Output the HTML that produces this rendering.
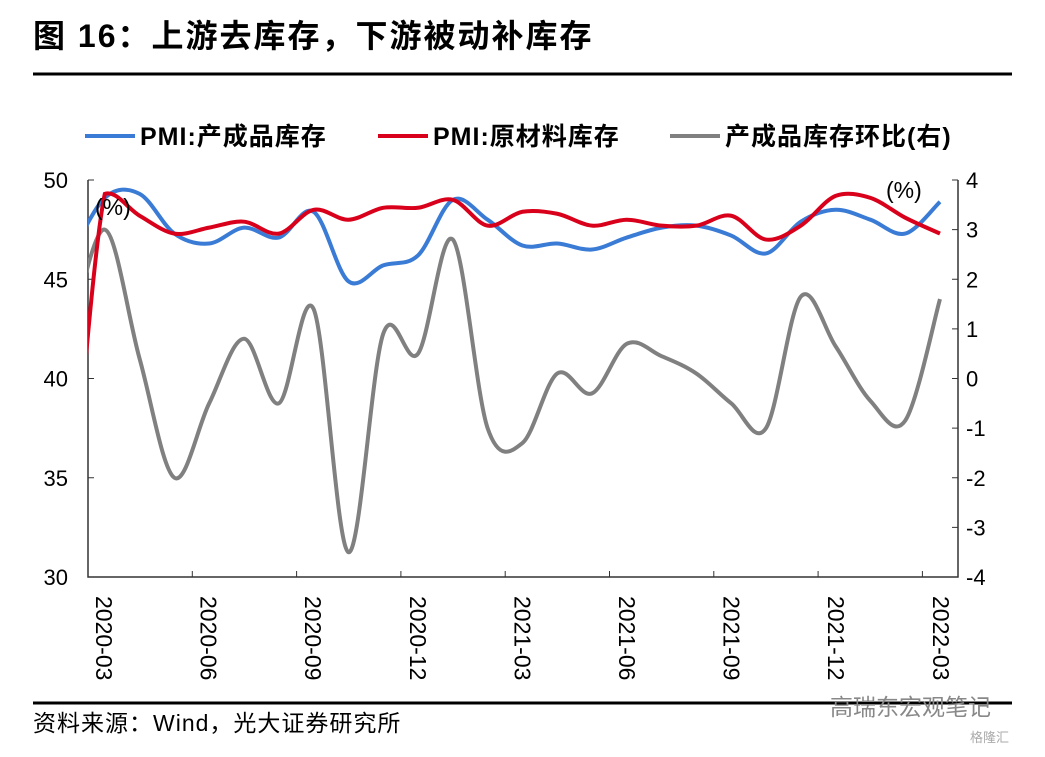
<!DOCTYPE html>
<html><head><meta charset="utf-8"><style>
body{margin:0;background:#fff;}
svg text{font-family:"Liberation Sans","Noto Sans CJK SC",sans-serif;}
</style></head><body>
<svg width="1045" height="752" viewBox="0 0 1045 752" xmlns="http://www.w3.org/2000/svg">
<text x="33" y="47" font-size="32" font-weight="bold" letter-spacing="2" fill="#000">图 16：上游去库存，下游被动补库存</text>
<line x1="33" y1="74" x2="1012" y2="74" stroke="#000" stroke-width="3"/>
<g>
<g><line x1="85" y1="136" x2="135" y2="136" stroke="#3a7bd5" stroke-width="4"/><text x="140" y="145" font-size="25" font-weight="bold" letter-spacing="1">PMI:产成品库存</text></g>
<g><line x1="378" y1="136" x2="428" y2="136" stroke="#d9001b" stroke-width="4"/><text x="433" y="145" font-size="25" font-weight="bold" letter-spacing="1">PMI:原材料库存</text></g>
<g><line x1="670" y1="136" x2="720" y2="136" stroke="#808080" stroke-width="4"/><text x="725" y="145" font-size="25" font-weight="bold" letter-spacing="1">产成品库存环比(右)</text></g>
</g>
<g id="axes"></g>
<g id="series" clip-path="url(#clip)"></g>
<defs><clipPath id="clip"><rect x="88" y="170" width="870" height="420"/></clipPath></defs>
<text x="95" y="215" font-size="23">(%)</text>
<text x="886" y="198" font-size="23">(%)</text>
<line x1="33" y1="703" x2="1012" y2="703" stroke="#000" stroke-width="3"/>
<text x="33" y="731" font-size="23" letter-spacing="1">资料来源：Wind，光大证券研究所</text>
<text x="830" y="715" font-size="23" fill="#888">高瑞东宏观笔记</text>
<text x="970" y="742" font-size="13" fill="#aaa">格隆汇</text>
</svg>
<script>
const categories=["2020-02","2020-03","2020-04","2020-05","2020-06","2020-07","2020-08","2020-09","2020-10","2020-11","2020-12","2021-01","2021-02","2021-03","2021-04","2021-05","2021-06","2021-07","2021-08","2021-09","2021-10","2021-11","2021-12","2022-01","2022-02","2022-03"];
const finishedGoods=[46.1,49.1,49.3,47.3,46.8,47.6,47.1,48.4,44.9,45.7,46.2,49.0,48.0,46.7,46.8,46.5,47.1,47.6,47.7,47.2,46.3,47.9,48.5,48.0,47.3,48.9];
const rawMaterials=[32.0,49.3,48.2,47.3,47.6,47.9,47.3,48.5,48.0,48.6,48.6,49.0,47.7,48.4,48.3,47.7,48.0,47.7,47.7,48.2,47.0,47.7,49.2,49.1,48.1,47.3];
const momChange=[0.8,3.0,0.4,-2.0,-0.5,0.8,-0.5,1.4,-3.5,0.9,0.5,2.8,-1.0,-1.3,0.1,-0.3,0.7,0.45,0.1,-0.5,-1.0,1.65,0.65,-0.45,-0.85,1.6];
const leftTicks=[30,35,40,45,50];
const rightTicks=[-4,-3,-2,-1,0,1,2,3,4];
const xLabels=["2020-03","2020-06","2020-09","2020-12","2021-03","2021-06","2021-09","2021-12","2022-03"];
const NS="http://www.w3.org/2000/svg";
const X0=88,X1=958,YT=180,YB=577;
const xs=i=>70+i*34.8;
const yl=v=>YB-(v-30)/20*(YB-YT);
const yr=v=>YB-(v+4)/8*(YB-YT);
function mk(tag,attrs,parent){const e=document.createElementNS(NS,tag);for(const k in attrs)e.setAttribute(k,attrs[k]);parent.appendChild(e);return e;}
const ax=document.getElementById('axes');
let e=mk('path',{d:`M${X0},${YT} V${YB} H${X1} V${YT}`,fill:'none',stroke:'#333','stroke-width':1.5},ax);


leftTicks.forEach(v=>{
 mk('line',{x1:X0,x2:X0+6,y1:yl(v),y2:yl(v),stroke:'#333'},ax);
 const t=mk('text',{x:X0-20,y:yl(v)+8,'font-size':22,'text-anchor':'end'},ax);t.textContent=v;
 
 
});
rightTicks.forEach(v=>{
 mk('line',{x1:X1-6,x2:X1,y1:yr(v),y2:yr(v),stroke:'#333'},ax);
 const t=mk('text',{x:X1+8,y:yr(v)+8,'font-size':22},ax);t.textContent=v;
 
 
});
xLabels.forEach((l,k)=>{
 const tx=X0+k*104.3;
 mk('line',{x1:tx,x2:tx,y1:YB,y2:YB-6,stroke:'#333'},ax);
 const cx=104+k*104.6;
 const t=mk('text',{x:0,y:0,'font-size':23,transform:`translate(${cx-8},596) rotate(90)`},ax);t.textContent=l;
 
 
});
function smooth(pts,clamp){let d=`M${pts[0][0]},${pts[0][1]}`;for(let i=0;i<pts.length-1;i++){const p0=pts[i-1]||pts[i],p1=pts[i],p2=pts[i+1],p3=pts[i+2]||p2;const t=6;let c1y=p1[1]+(p2[1]-p0[1])/t,c2y=p2[1]-(p3[1]-p1[1])/t;if(clamp){const lo=Math.min(p1[1],p2[1])-4,hi=Math.max(p1[1],p2[1])+4;c1y=Math.max(lo,Math.min(hi,c1y));c2y=Math.max(lo,Math.min(hi,c2y));}d+=` C${p1[0]+(p2[0]-p0[0])/t},${c1y} ${p2[0]-(p3[0]-p1[0])/t},${c2y} ${p2[0]},${p2[1]}`;}return d;}
const sg=document.getElementById('series');
let p=mk('path',{d:smooth(momChange.map((v,i)=>[xs(i),yr(v)]),false),fill:'none',stroke:'#808080','stroke-width':4},sg);


p=mk('path',{d:smooth(finishedGoods.map((v,i)=>[xs(i),yl(v)]),false),fill:'none',stroke:'#3a7bd5','stroke-width':4},sg);


p=mk('path',{d:smooth(rawMaterials.map((v,i)=>[xs(i),yl(v)]),true),fill:'none',stroke:'#d9001b','stroke-width':4},sg);


</script>
</body></html>
